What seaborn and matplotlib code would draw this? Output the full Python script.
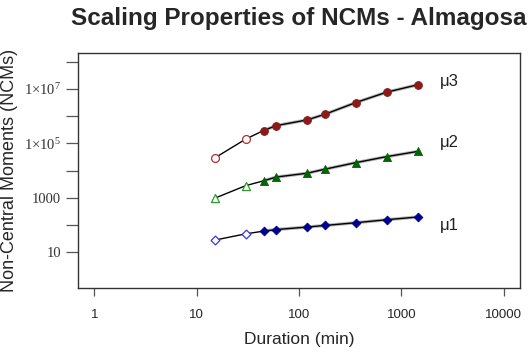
import numpy as np
import pandas as pd
import matplotlib
matplotlib.use("Agg")
import matplotlib.pyplot as plt
import seaborn as sns

# Aggregation durations (minutes) and log10 of the non-central moments
duration = [15, 30, 45, 60, 120, 180, 360, 720, 1440]
log_mu1 = [1.44, 1.67, 1.77, 1.83, 1.92, 1.98, 2.08, 2.19, 2.29]
log_mu2 = [2.98, 3.44, 3.62, 3.76, 3.90, 4.05, 4.29, 4.51, 4.70]
log_mu3 = [4.46, 5.15, 5.47, 5.65, 5.86, 6.07, 6.50, 6.88, 7.15]
series_names = ["μ1", "μ2", "μ3"]
x_ticks = [1, 10, 100, 1000, 10000]
y_tick_exp = [1, 2, 3, 4, 5, 6, 7, 8]
y_tick_labels = ["10", "", "1000", "", r"$1{\times}10^{5}$", "", r"$1{\times}10^{7}$", ""]

sns.set_theme(style="white")
plt.rcParams["font.family"] = ["Liberation Sans", "DejaVu Sans"]
plt.rcParams["mathtext.fontset"] = "custom"
plt.rcParams["mathtext.rm"] = "Liberation Serif"
plt.rcParams["mathtext.it"] = "Liberation Serif:italic"

rows = []
for name, vals in zip(series_names, [log_mu1, log_mu2, log_mu3]):
    for d, v in zip(duration, vals):
        rows.append({"duration": d, "moment": 10 ** v, "series": name,
                     "filled": d >= 45})
df = pd.DataFrame(rows)

fig = plt.figure(figsize=(5.28, 3.53), dpi=100)
ax = fig.add_axes([78 / 528, 1 - 288 / 353, 442 / 528, 235 / 353])
ax.set_xscale("log")
ax.set_yscale("log")

styles = {
    "μ1": dict(marker="D", dark="#00008b", light="#3a3ad0", size=20),
    "μ2": dict(marker="^", dark="#006400", light="#2e9a2e", size=34),
    "μ3": dict(marker="o", dark="#8b1a1a", light="#b03030", size=32),
}

for name in series_names:
    sub = df[df["series"] == name]
    st = styles[name]
    fitted = sub[sub["filled"]]
    # grey band behind the scaling range
    sns.lineplot(data=fitted, x="duration", y="moment", ax=ax, color="#b8b8b8",
                 linewidth=2.4, estimator=None, sort=True, legend=False)
    sns.lineplot(data=sub, x="duration", y="moment", ax=ax, color="black",
                 linewidth=1.0, estimator=None, sort=True, legend=False)
    sns.scatterplot(data=fitted, x="duration", y="moment", ax=ax,
                    marker=st["marker"], s=st["size"], color=st["dark"],
                    edgecolor=st["dark"], linewidth=0.6, legend=False, zorder=5)
    opn = sub[~sub["filled"]]
    sns.scatterplot(data=opn, x="duration", y="moment", ax=ax,
                    marker=st["marker"], s=st["size"], facecolor="white",
                    edgecolor=st["light"], linewidth=0.9, legend=False, zorder=5)

# series labels to the right of the curves
for name, ypos in zip(["μ3", "μ2", "μ1"], [10 ** 7.27, 10 ** 5.02, 10 ** 1.98]):
    ax.text(2360, ypos, name, fontsize=12, color="#222222", va="center", ha="left")

ax.set_xlim(10 ** -0.16, 10 ** 4.16)
ax.set_ylim(10 ** -0.32, 10 ** 8.32)
ax.set_xticks(x_ticks)
ax.set_xticklabels([str(t) for t in x_ticks], fontsize=9.5)
ax.set_yticks([10 ** e for e in y_tick_exp])
ax.set_yticklabels(y_tick_labels, fontsize=10.5, family="Liberation Serif",
                   color="#333333")
ax.minorticks_off()
ax.tick_params(axis="x", which="major", direction="out", length=6, width=0.9,
               color="#555555", pad=9)
ax.tick_params(axis="y", which="major", direction="out", length=9, width=0.9,
               color="#555555", pad=3)
ax.tick_params(left=True, bottom=True)
for sp in ax.spines.values():
    sp.set_visible(True)
    sp.set_color("#333333")
    sp.set_linewidth(1.0)

ax.set_xlabel("Duration (min)", fontsize=12.5, labelpad=8)
ax.set_ylabel("Non-Central Moments (NCMs)", fontsize=13, labelpad=2)
ax.yaxis.set_label_coords(-0.135, 0.5)
ax.set_title("Scaling Properties of NCMs - Almagosa", fontsize=17.5,
             fontweight="bold", pad=20)

fig.savefig("out.png", dpi=100)
